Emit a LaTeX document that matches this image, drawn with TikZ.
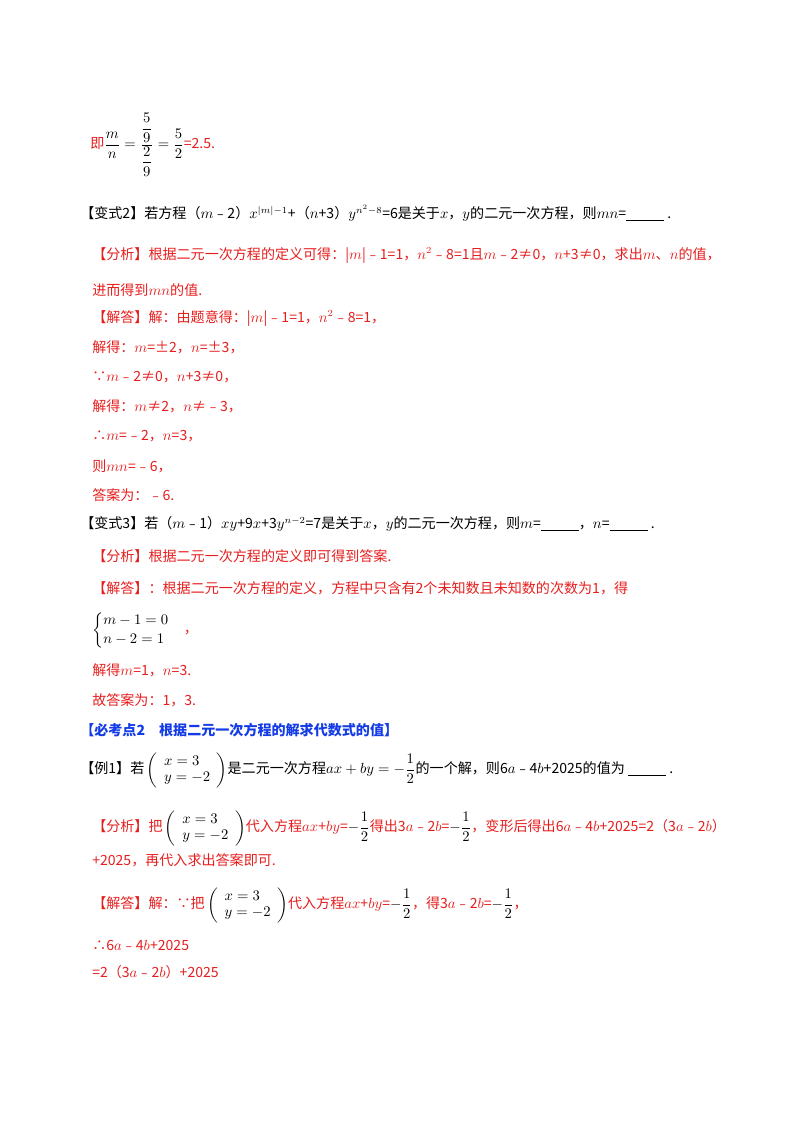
\documentclass[tikz,border=0pt]{standalone}
\usepackage{amsmath}
\usepackage{fontspec}
\setmainfont{Liberation Serif}
\newfontfamily\cjk{Noto Sans CJK SC}
\definecolor{ansred}{RGB}{230,30,30}
\definecolor{headblue}{RGB}{20,60,230}
\newcommand{\blank}{\underline{\hspace{1cm}}}
\tikzset{
  line/.style={anchor=west, inner sep=0pt, font=\cjk\fontsize{10.5}{12}\selectfont},
  ques/.style={line, black},
  ans/.style={line, ansred},
  head/.style={line, headblue, font=\cjk\bfseries\fontsize{10.5}{12}\selectfont}
}
\begin{document}
\begin{tikzpicture}[x=0.02625cm, y=-0.02625cm]
  \useasboundingbox (0,0) rectangle (800,1132);

  % previous answer tail
  \node[ans] (frac) at (90,145) {即\textcolor{black}{$\dfrac{m}{n}=\dfrac{\dfrac{5}{9}}{\dfrac{2}{9}}=\dfrac{5}{2}$}=2.5.};

  % --- 变式2 ---
  \node[ques] (q2) at (80,213) {【变式2】若方程（$m$﹣2）$x^{|m|-1}$+（$n$+3）$y^{n^2-8}$=6是关于$x$，$y$的二元一次方程，则$mn$=\blank\ .};
  \node[ans] (a1) at (92,255) {【分析】根据二元一次方程的定义可得：|$m$|﹣1=1，$n^2$﹣8=1且$m$﹣2≠0，$n$+3≠0，求出$m$、$n$的值，};
  \node[ans] (a2) at (92,290) {进而得到$mn$的值.};
  \node[ans] (a3) at (92,318) {【解答】解：由题意得：|$m$|﹣1=1，$n^2$﹣8=1，};
  \node[ans] (a4) at (92,347) {解得：$m$=±2，$n$=±3，};
  \node[ans] (a5) at (92,377) {∵$m$﹣2≠0，$n$+3≠0，};
  \node[ans] (a6) at (92,406) {解得：$m$≠2，$n$≠﹣3，};
  \node[ans] (a7) at (92,436) {∴$m$=﹣2，$n$=3，};
  \node[ans] (a8) at (92,466) {则$mn$=﹣6，};
  \node[ans] (a9) at (92,495) {答案为：﹣6.};

  % --- 变式3 ---
  \node[ques] (q3) at (80,524) {【变式3】若（$m$﹣1）$xy$+9$x$+3$y^{n-2}$=7是关于$x$，$y$的二元一次方程，则$m$=\blank，$n$=\blank\ .};
  \node[ans] (b1) at (92,556) {【分析】根据二元一次方程的定义即可得到答案.};
  \node[ans] (b2) at (92,588) {【解答】：根据二元一次方程的定义，方程中只含有2个未知数且未知数的次数为1，得};
  \node[ans] (b3) at (92,630) {\textcolor{black}{$\begin{cases}m-1=0\\ n-2=1\end{cases}$}，};
  \node[ans] (b4) at (92,670) {解得$m$=1，$n$=3.};
  \node[ans] (b5) at (92,700) {故答案为：1，3.};

  % --- 必考点2 ---
  \node[head] (h2) at (80,730) {【必考点2\quad 根据二元一次方程的解求代数式的值】};
  \node[ques] (e1) at (80,770) {【例1】若\,$\left(\begin{array}{l}x=3\\ y=-2\end{array}\right)$是二元一次方程$ax+by=-\dfrac{1}{2}$的一个解，则6$a$﹣4$b$+2025的值为\ \blank\ .};
  \node[ans] (c1) at (92,828) {【分析】把\,\textcolor{black}{$\left(\begin{array}{l}x=3\\ y=-2\end{array}\right)$}代入方程$ax$+$by$=\textcolor{black}{$-\dfrac{1}{2}$}得出3$a$﹣2$b$=\textcolor{black}{$-\dfrac{1}{2}$}，变形后得出6$a$﹣4$b$+2025=2（3$a$﹣2$b$）};
  \node[ans] (c2) at (92,860) {+2025，再代入求出答案即可.};
  \node[ans] (c3) at (92,905) {【解答】解：∵把\,\textcolor{black}{$\left(\begin{array}{l}x=3\\ y=-2\end{array}\right)$}代入方程$ax$+$by$=\textcolor{black}{$-\dfrac{1}{2}$}，得3$a$﹣2$b$=\textcolor{black}{$-\dfrac{1}{2}$}，};
  \node[ans] (c4) at (92,945) {∴6$a$﹣4$b$+2025};
  \node[ans] (c5) at (92,972) {=2（3$a$﹣2$b$）+2025};
\end{tikzpicture}
\end{document}
